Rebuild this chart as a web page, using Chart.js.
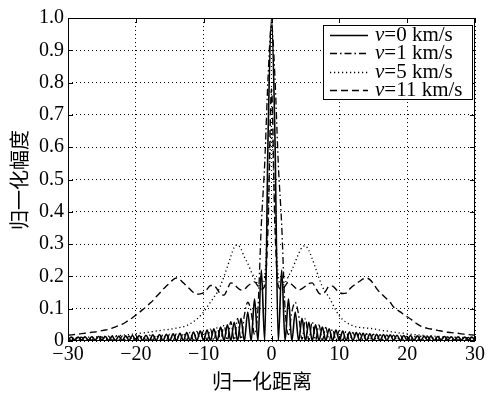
<!DOCTYPE html>
<html>
<head>
<meta charset="utf-8">
<script src="https://cdn.jsdelivr.net/npm/chart.js@4.4.1/dist/chart.umd.min.js"></script>
<style>
  html, body { margin: 0; padding: 0; background: #fff; }
  #wrap { width: 487px; height: 395px; }
</style>
</head>
<body>
<div id="wrap"><canvas id="chart" width="487" height="395"></canvas></div>
<script>
// sampling grid: -30 .. 30, step 0.5
const xMin = -30, xStep = 0.5;
const xTicks = [-30, -20, -10, 0, 10, 20, 30];
const yTicks = [0, 0.1, 0.2, 0.3, 0.4, 0.5, 0.6, 0.7, 0.8, 0.9, 1.0];
const seriesNames = ["0", "1", "5", "11"];

// v = 0 km/s (solid)
const v0 = [
  0.003,0.012,0.003,0.012,0.003,0.013,0.003,0.013,0.003,0.014,
  0.003,0.014,0.002,0.015,0.002,0.015,0.002,0.016,0.002,0.017,
  0.002,0.017,0.002,0.018,0.002,0.019,0.002,0.020,0.001,0.021,
  0.001,0.022,0.001,0.024,0.001,0.026,0.001,0.028,0.001,0.031,
  0.001,0.034,0.001,0.038,0.001,0.043,0.001,0.050,0.001,0.058,
  0,0.070,0,0.090,0,0.130,0,0.220,0,0.640,
  1.0,
  0.640,0,0.220,0,0.130,0,0.090,0,0.070,0,
  0.058,0.001,0.050,0.001,0.043,0.001,0.038,0.001,0.034,0.001,
  0.031,0.001,0.028,0.001,0.026,0.001,0.024,0.001,0.022,0.001,
  0.021,0.001,0.020,0.002,0.019,0.002,0.018,0.002,0.017,0.002,
  0.017,0.002,0.016,0.002,0.015,0.002,0.015,0.002,0.014,0.003,
  0.014,0.003,0.013,0.003,0.013,0.003,0.012,0.003,0.012,0.003
];

// v = 1 km/s (dash-dot)
const v1 = [
  0.011,0.002,0.011,0.002,0.012,0.002,0.012,0.002,0.013,0.002,
  0.013,0.002,0.014,0.002,0.014,0.002,0.015,0.002,0.016,0.002,
  0.017,0.002,0.017,0.002,0.018,0.002,0.019,0.002,0.020,0.002,
  0.021,0.002,0.023,0.002,0.025,0.002,0.027,0.002,0.030,0.002,
  0.033,0.002,0.037,0.002,0.042,0.002,0.050,0.002,0.060,0.002,
  0.070,0.005,0.080,0.120,0.090,0.020,0.100,0.360,0.550,0.820,
  0.98,
  0.820,0.550,0.360,0.100,0.020,0.090,0.120,0.080,0.005,0.070,
  0.002,0.060,0.002,0.050,0.002,0.042,0.002,0.037,0.002,0.033,
  0.002,0.030,0.002,0.027,0.002,0.025,0.002,0.023,0.002,0.021,
  0.002,0.020,0.002,0.019,0.002,0.018,0.002,0.017,0.002,0.017,
  0.002,0.016,0.002,0.015,0.002,0.014,0.002,0.014,0.002,0.013,
  0.002,0.013,0.002,0.012,0.002,0.012,0.002,0.011,0.002,0.011
];

// v = 5 km/s (dotted)
const v5 = [
  0.010,0.010,0.010,0.011,0.011,0.011,0.012,0.012,0.013,0.013,
  0.014,0.014,0.015,0.016,0.016,0.017,0.018,0.019,0.020,0.021,
  0.022,0.024,0.025,0.026,0.028,0.029,0.031,0.032,0.034,0.035,
  0.036,0.038,0.040,0.042,0.044,0.048,0.053,0.060,0.068,0.078,
  0.090,0.105,0.120,0.135,0.150,0.172,0.200,0.230,0.262,0.290,
  0.298,0.285,0.260,0.240,0.215,0.195,0.175,0.170,0.200,0.400,
  0.66,
  0.400,0.200,0.170,0.180,0.200,0.220,0.245,0.270,0.290,0.295,
  0.280,0.255,0.225,0.195,0.168,0.150,0.135,0.115,0.095,0.078,
  0.066,0.058,0.052,0.047,0.044,0.042,0.041,0.040,0.039,0.038,
  0.036,0.034,0.032,0.031,0.029,0.028,0.026,0.025,0.024,0.022,
  0.021,0.020,0.019,0.018,0.017,0.016,0.016,0.015,0.014,0.014,
  0.013,0.013,0.012,0.012,0.011,0.011,0.011,0.010,0.010,0.010
];

// v = 11 km/s (dashed)
const v11 = [
  0.018,0.019,0.020,0.021,0.023,0.024,0.025,0.027,0.028,0.030,
  0.032,0.034,0.036,0.040,0.044,0.048,0.052,0.058,0.065,0.072,
  0.080,0.088,0.097,0.105,0.115,0.125,0.137,0.148,0.160,0.170,
  0.180,0.190,0.195,0.190,0.180,0.170,0.160,0.150,0.145,0.146,
  0.150,0.160,0.172,0.172,0.160,0.145,0.142,0.160,0.180,0.175,
  0.165,0.158,0.160,0.170,0.178,0.183,0.170,0.160,0.170,0.360,
  0.78,
  0.360,0.170,0.160,0.170,0.183,0.175,0.165,0.158,0.162,0.170,
  0.178,0.180,0.165,0.148,0.145,0.155,0.170,0.170,0.160,0.150,
  0.147,0.148,0.160,0.170,0.178,0.185,0.192,0.195,0.190,0.178,
  0.162,0.150,0.140,0.130,0.120,0.105,0.097,0.090,0.082,0.075,
  0.068,0.060,0.052,0.046,0.042,0.039,0.037,0.035,0.033,0.031,
  0.029,0.027,0.026,0.025,0.024,0.022,0.021,0.020,0.019,0.018
];

const SERIF = '"Liberation Serif", "DejaVu Serif", serif';
const CJK = '"Noto Sans CJK SC", sans-serif';

const styles = [
  { dash: [], width: 1.6 },
  { dash: [7, 3, 1.5, 3], width: 1.3 },
  { dash: [1.2, 2.8], width: 1.3 },
  { dash: [7, 4], width: 1.4 },
];

function toPoints(ys) {
  return ys.map((y, i) => ({ x: xMin + i * xStep, y: y }));
}

const datasets = [v0, v1, v5, v11].map((ys, i) => ({
  label: "v=" + seriesNames[i] + " km/s",
  data: toPoints(ys),
  borderColor: "#000",
  borderWidth: styles[i].width,
  borderDash: styles[i].dash,
  pointRadius: 0,
  fill: false,
  cubicInterpolationMode: "monotone",
}));

const framePlugin = {
  id: "frame",
  afterDraw(chart) {
    const { ctx, chartArea: a, scales } = chart;
    ctx.save();
    ctx.strokeStyle = "#000";
    ctx.lineWidth = 1;
    ctx.setLineDash([]);
    ctx.strokeRect(a.left + 0.5, a.top + 0.5, a.right - a.left - 1, a.bottom - a.top - 1);

    // inward tick marks on all four sides
    const tl = 5;
    ctx.beginPath();
    xTicks.forEach((v) => {
      const px = Math.round(scales.x.getPixelForValue(v)) + 0.5;
      ctx.moveTo(px, a.bottom); ctx.lineTo(px, a.bottom - tl);
      ctx.moveTo(px, a.top); ctx.lineTo(px, a.top + tl);
    });
    yTicks.forEach((v) => {
      const py = Math.round(scales.y.getPixelForValue(v)) + 0.5;
      ctx.moveTo(a.left, py); ctx.lineTo(a.left + tl, py);
      ctx.moveTo(a.right, py); ctx.lineTo(a.right - tl, py);
    });
    ctx.stroke();

    // legend box
    const bx = 323, by = 25, bw = 149, bh = 74;
    ctx.fillStyle = "#fff";
    ctx.fillRect(bx, by, bw, bh);
    ctx.strokeRect(bx + 0.5, by + 0.5, bw, bh);
    const rows = [35, 53, 72, 90];
    rows.forEach((ry, i) => {
      ctx.beginPath();
      ctx.lineWidth = styles[i].width;
      ctx.setLineDash(styles[i].dash);
      ctx.moveTo(330, ry + 0.5);
      ctx.lineTo(368, ry + 0.5);
      ctx.stroke();
      ctx.setLineDash([]);
      ctx.fillStyle = "#000";
      ctx.textBaseline = "middle";
      ctx.textAlign = "left";
      ctx.font = "italic 21px " + SERIF;
      ctx.fillText("v", 375, ry);
      const w = ctx.measureText("v").width;
      ctx.font = "21px " + SERIF;
      ctx.fillText("=" + seriesNames[i] + " km/s", 375 + w, ry);
    });

    // axis titles
    ctx.fillStyle = "#000";
    ctx.font = "20px " + CJK;
    ctx.textAlign = "center";
    ctx.textBaseline = "middle";
    ctx.fillText("归一化距离", 262, 381);
    ctx.translate(19, 180);
    ctx.rotate(-Math.PI / 2);
    ctx.fillText("归一化幅度", 0, 0);
    ctx.restore();
  },
};

new Chart(document.getElementById("chart"), {
  type: "line",
  data: { datasets },
  options: {
    responsive: false,
    animation: false,
    layout: { padding: { top: 18, right: 11, left: 0, bottom: 0 } },
    plugins: { legend: { display: false }, tooltip: { enabled: false } },
    scales: {
      x: {
        type: "linear",
        min: -30,
        max: 30,
        afterBuildTicks: (s) => { s.ticks = xTicks.map((v) => ({ value: v })); },
        afterFit: (s) => { s.height = 54; },
        ticks: {
          color: "#000",
          padding: 2,
          font: { family: SERIF, size: 20 },
          callback: (v) => (v < 0 ? "\u2212" + Math.abs(v) : String(v)),
        },
        grid: { color: "#000", lineWidth: 1, drawTicks: false },
        border: { display: false, dash: [1, 3] },
      },
      y: {
        min: 0,
        max: 1,
        afterBuildTicks: (s) => { s.ticks = yTicks.map((v) => ({ value: v })); },
        afterFit: (s) => { s.width = 68; },
        ticks: {
          color: "#000",
          padding: 4,
          font: { family: SERIF, size: 20 },
          callback: (v) => (v === 0 ? "0" : v.toFixed(1)),
        },
        grid: { color: "#000", lineWidth: 1, drawTicks: false },
        border: { display: false, dash: [1, 3] },
      },
    },
  },
  plugins: [framePlugin],
});
</script>
</body>
</html>
